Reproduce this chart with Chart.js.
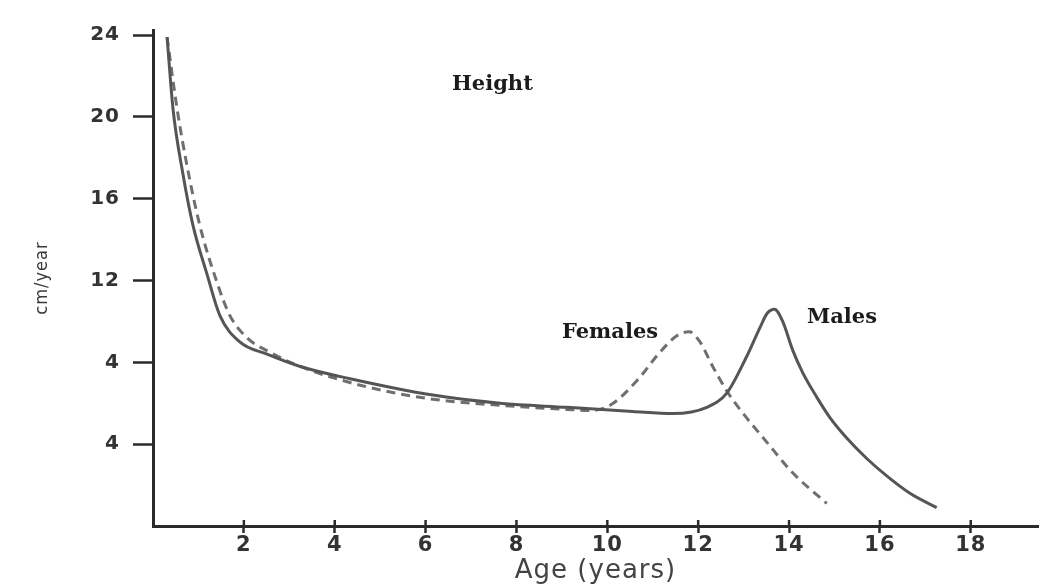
<!DOCTYPE html>
<html>
<head>
<meta charset="utf-8">
<script src="https://cdn.jsdelivr.net/npm/chart.js@4.4.1/dist/chart.umd.min.js"></script>
<style>
  html, body { margin: 0; padding: 0; background: #ffffff; }
  #wrap { position: relative; width: 1060px; height: 587px; }
</style>
</head>
<body>
<div id="wrap"><canvas id="c"></canvas></div>
<script>
// ---- data ----
const maleAge = [0.31, 0.44, 0.66, 0.88, 1.19, 1.47, 1.91, 2.51, 3.24, 4.34, 6.16, 7.64, 9.11, 10.56, 11.44, 12.19, 12.63, 13.07, 13.36, 13.52, 13.68, 13.86, 14.08, 14.3, 14.61, 14.9, 15.27, 15.71, 16.15, 16.66, 17.25];
const maleVelocity = [23.9, 20.4, 17.2, 14.7, 12.3, 10.3, 9.0, 8.4, 7.8, 7.2, 6.4, 6.0, 5.8, 5.6, 5.5, 5.8, 6.5, 8.3, 9.7, 10.4, 10.6, 10.0, 8.6, 7.5, 6.3, 5.3, 4.3, 3.3, 2.45, 1.6, 0.9];

const femaleAge = [0.31, 0.53, 0.75, 1.03, 1.41, 1.69, 2.07, 2.57, 3.24, 4.71, 6.16, 7.64, 9.11, 9.62, 10.06, 10.65, 11.16, 11.53, 11.8, 12.04, 12.32, 12.63, 12.92, 13.51, 14.08, 14.83];
const femaleVelocity = [23.9, 20.4, 17.6, 14.7, 11.9, 10.3, 9.2, 8.5, 7.8, 6.8, 6.2, 5.9, 5.7, 5.65, 5.9, 7.1, 8.5, 9.3, 9.5, 9.0, 7.8, 6.6, 5.7, 4.1, 2.6, 1.1];

const xTickValues = [2, 4, 6, 8, 10, 12, 14, 16, 18];
const yTickValues = [4, 8, 12, 16, 20, 24];
const yTickLabels = ["4", "4", "12", "16", "20", "24"];   // as printed in the original

const titleText = "Height";
const seriesLabels = ["Males", "Females"];
const xTitle = "Age (years)";
const yTitle = "cm/year";

// ---- build points from arrays ----
const malePts = maleAge.map((a, i) => ({ x: a, y: maleVelocity[i] }));
const femalePts = femaleAge.map((a, i) => ({ x: a, y: femaleVelocity[i] }));

const sansBold = "'DejaVu Sans', 'Liberation Sans', sans-serif";

const annotate = {
  id: 'annotate',
  beforeDraw(chart) {
    chart.ctx.letterSpacing = '1px';
  },
  afterDraw(chart) {
    const ctx = chart.ctx;
    const xs = chart.scales.x;
    ctx.save();
    // upward part of x tick marks (they cross the axis)
    ctx.strokeStyle = '#2a2a2a';
    ctx.lineWidth = 2.5;
    xs.ticks.forEach(t => {
      const px = xs.getPixelForValue(t.value);
      ctx.beginPath();
      ctx.moveTo(px, xs.top);
      ctx.lineTo(px, xs.top - 6);
      ctx.stroke();
    });
    // text annotations
    ctx.letterSpacing = '0px';
    ctx.fillStyle = '#1b1b1b';
    ctx.textAlign = 'left';
    ctx.textBaseline = 'alphabetic';
    ctx.font = "bold 21px 'DejaVu Serif', 'Liberation Serif', serif";
    ctx.fillText(titleText, 452, 90);
    ctx.fillText(seriesLabels[1], 562, 338);
    ctx.fillText(seriesLabels[0], 807, 323);
    ctx.restore();
  }
};

new Chart(document.getElementById('c'), {
  type: 'line',
  data: {
    datasets: [
      {
        label: seriesLabels[0],
        data: malePts,
        borderColor: '#555555',
        borderWidth: 3,
        pointRadius: 0,
        cubicInterpolationMode: 'monotone',
        fill: false
      },
      {
        label: seriesLabels[1],
        data: femalePts,
        borderColor: '#6f6f6f',
        borderWidth: 3,
        borderDash: [9, 6],
        pointRadius: 0,
        cubicInterpolationMode: 'monotone',
        fill: false
      }
    ]
  },
  options: {
    responsive: true,
    maintainAspectRatio: false,
    animation: false,
    layout: { padding: { left: 0, right: 22, top: 30, bottom: 0 } },
    plugins: {
      legend: { display: false },
      tooltip: { enabled: false },
      title: { display: false }
    },
    scales: {
      x: {
        type: 'linear',
        min: 0,
        max: 19.48,
        afterBuildTicks: s => { s.ticks = xTickValues.map(v => ({ value: v })); },
        afterFit: s => { s.height = 61; },
        grid: { drawOnChartArea: false, drawTicks: true, tickLength: 7, tickWidth: 2.5, tickColor: '#2a2a2a' },
        border: { display: true, color: '#2a2a2a', width: 3 },
        ticks: {
          padding: 0,
          color: '#333333',
          font: { family: sansBold, size: 21, weight: 'bold' },
          maxRotation: 0,
          autoSkip: false,
          callback: v => String(v)
        },
        title: {
          display: true,
          text: xTitle,
          color: '#444444',
          font: { family: "'DejaVu Sans', 'Liberation Sans', sans-serif", size: 26 },
          padding: { top: 0, bottom: 0 }
        }
      },
      y: {
        type: 'linear',
        min: 0,
        max: 24.25,
        afterBuildTicks: s => { s.ticks = yTickValues.map(v => ({ value: v })); },
        afterFit: s => { s.width = 153; },
        grid: { drawOnChartArea: false, drawTicks: true, tickLength: 20, tickWidth: 2.5, tickColor: '#2a2a2a' },
        border: { display: true, color: '#2a2a2a', width: 3 },
        ticks: {
          padding: 13,
          color: '#333333',
          font: { family: sansBold, size: 20, weight: 'bold' },
          autoSkip: false,
          callback: v => { const i = yTickValues.indexOf(v); return i >= 0 ? yTickLabels[i] : ''; }
        },
        title: {
          display: true,
          text: yTitle,
          color: '#3a3a3a',
          font: { family: "'DejaVu Sans Condensed', 'Liberation Sans Narrow', 'DejaVu Sans', sans-serif", size: 18 },
          padding: { top: 32, bottom: 0 }
        }
      }
    }
  },
  plugins: [annotate]
});
</script>
</body>
</html>
